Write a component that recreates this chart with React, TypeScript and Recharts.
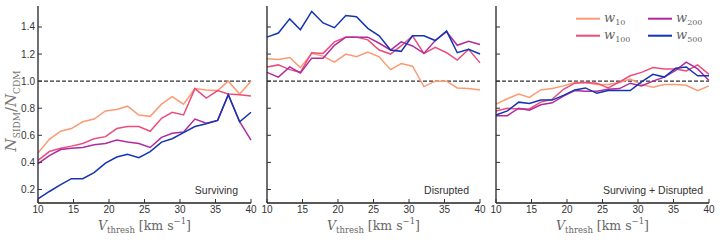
import React from "react";
import { LineChart, Line, XAxis, YAxis, ReferenceLine } from "recharts";

// threshold velocities (km/s), shared by all three panels
const V_THRESH = [10, 11.6, 13.2, 14.7, 16.3, 17.9, 19.5, 21.1, 22.6, 24.2, 25.8, 27.4, 28.9, 30.5, 32.1, 33.7, 35.3, 36.8, 38.4, 40];

// Surviving
const SURV_W10 = [0.47, 0.57, 0.63, 0.65, 0.7, 0.72, 0.78, 0.79, 0.815, 0.75, 0.74, 0.83, 0.885, 0.83, 0.945, 0.935, 0.93, 1.0, 0.905, 1.0];
const SURV_W100 = [0.415, 0.48, 0.505, 0.52, 0.54, 0.575, 0.59, 0.65, 0.665, 0.665, 0.63, 0.725, 0.77, 0.75, 0.945, 0.875, 0.93, 0.905, 0.9, 0.89];
const SURV_W200 = [0.39, 0.45, 0.495, 0.505, 0.51, 0.53, 0.54, 0.565, 0.55, 0.54, 0.51, 0.585, 0.615, 0.625, 0.72, 0.69, 0.71, 0.9, 0.7, 0.565];
const SURV_W500 = [0.13, 0.185, 0.235, 0.28, 0.28, 0.325, 0.395, 0.44, 0.46, 0.435, 0.48, 0.55, 0.575, 0.62, 0.665, 0.685, 0.71, 0.9, 0.7, 0.77];

// Disrupted
const DISR_W10 = [1.165, 1.16, 1.175, 1.1, 1.205, 1.185, 1.14, 1.2, 1.18, 1.215, 1.18, 1.085, 1.13, 1.11, 0.96, 1.0, 1.0, 0.95, 0.945, 0.935];
const DISR_W100 = [1.105, 1.12, 1.085, 1.065, 1.21, 1.205, 1.29, 1.325, 1.325, 1.305, 1.23, 1.2, 1.26, 1.335, 1.205, 1.25, 1.21, 1.155, 1.235, 1.135];
const DISR_W200 = [1.065, 1.03, 1.105, 1.06, 1.17, 1.17, 1.265, 1.325, 1.325, 1.325, 1.28, 1.23, 1.29, 1.26, 1.205, 1.3, 1.365, 1.265, 1.295, 1.27];
const DISR_W500 = [1.325, 1.355, 1.46, 1.38, 1.515, 1.43, 1.395, 1.485, 1.475, 1.39, 1.335, 1.23, 1.22, 1.335, 1.335, 1.3, 1.37, 1.21, 1.235, 1.2];

// Surviving + Disrupted
const ALL_W10 = [0.83, 0.87, 0.905, 0.88, 0.935, 0.945, 0.965, 0.99, 0.99, 0.975, 0.975, 0.99, 1.015, 0.975, 0.955, 0.975, 0.975, 0.97, 0.93, 0.965];
const ALL_W100 = [0.78, 0.8, 0.795, 0.795, 0.845, 0.865, 0.94, 0.985, 0.99, 0.985, 0.95, 0.995, 1.04, 1.065, 1.1, 1.09, 1.09, 1.075, 1.12, 1.05];
const ALL_W200 = [0.745, 0.745, 0.8, 0.785, 0.825, 0.84, 0.89, 0.93, 0.925, 0.925, 0.94, 0.945, 0.985, 0.965, 1.0, 1.03, 1.08, 1.14, 1.09, 1.005];
const ALL_W500 = [0.75, 0.78, 0.845, 0.835, 0.86, 0.86, 0.895, 0.935, 0.95, 0.91, 0.93, 0.93, 0.93, 0.995, 1.05, 1.03, 1.095, 1.105, 1.04, 1.04];

const X_TICKS = [10, 15, 20, 25, 30, 35, 40];
const Y_TICKS = [0.2, 0.4, 0.6, 0.8, 1.0, 1.2, 1.4];
const Y_DOMAIN = [0.1, 1.555];

const SERIES = [
  { key: "w10", sub: "10", color: "#fc9a73" },
  { key: "w100", sub: "100", color: "#eb4d7c" },
  { key: "w200", sub: "200", color: "#b12a9f" },
  { key: "w500", sub: "500", color: "#1435b2" },
];

const PANELS = [
  { note: "Surviving", cols: [SURV_W10, SURV_W100, SURV_W200, SURV_W500], left: 0, width: 258, yw: 38, right: 7, inset: 13 },
  { note: "Disrupted", cols: [DISR_W10, DISR_W100, DISR_W200, DISR_W500], left: 259, width: 230, yw: 8, right: 9, inset: 11 },
  { note: "Surviving + Disrupted", cols: [ALL_W10, ALL_W100, ALL_W200, ALL_W500], left: 488, width: 232, yw: 8, right: 11, inset: 6 },
];

const TICK_FONT = '"Liberation Sans", Arial, sans-serif';
const MATH_FONT = '"DejaVu Serif", serif';

function YTick(props: any) {
  const { x, y, payload, showLabel } = props;
  const ax = x + 4;
  return (
    <g>
      <line x1={ax} x2={ax + 4} y1={y} y2={y} stroke="#333" strokeWidth={1} />
      {showLabel && (
        <text x={ax - 3} y={y} dy="0.35em" textAnchor="end" fontSize={10} fill="#333" fontFamily={TICK_FONT}>
          {payload.value.toFixed(1)}
        </text>
      )}
    </g>
  );
}

function XTick(props: any) {
  const { x, y, payload } = props;
  const ay = y - 3;
  return (
    <g>
      <line x1={x} x2={x} y1={ay} y2={ay - 4} stroke="#333" strokeWidth={1} />
      <text x={x} y={ay + 3} dy="0.71em" textAnchor="middle" fontSize={10} fill="#333" fontFamily={TICK_FONT}>
        {payload.value}
      </text>
    </g>
  );
}

function Panel({ p, idx }: { p: any; idx: number }) {
  const rows = V_THRESH.map((v, i) => {
    const r: Record<string, number> = { x: v };
    SERIES.forEach((s, k) => (r[s.key] = p.cols[k][i]));
    return r;
  });
  const plotLeft = p.left + p.yw;
  const plotRight = p.left + p.width - p.right;
  return (
    <>
      <div style={{ position: "absolute", left: p.left, top: 0 }}>
        <LineChart width={p.width} height={240} data={rows} margin={{ top: 6, right: p.right, bottom: 0, left: 0 }}>
          <XAxis
            dataKey="x"
            type="number"
            domain={[10, 40]}
            ticks={X_TICKS}
            interval={0}
            height={37}
            tickSize={0}
            tickMargin={3}
            tickLine={false}
            axisLine={{ stroke: "#222", strokeWidth: 1.3 }}
            tick={(t: any) => <XTick {...t} />}
          />
          <XAxis xAxisId="top" orientation="top" type="number" domain={[10, 40]} height={0} tick={false} tickLine={false} axisLine={{ stroke: "#999", strokeWidth: 2.5 }} />
          <YAxis
            type="number"
            domain={Y_DOMAIN}
            ticks={Y_TICKS}
            interval={0}
            width={p.yw}
            allowDataOverflow
            tickSize={0}
            tickMargin={4}
            tickLine={false}
            axisLine={{ stroke: "#222", strokeWidth: 1.3 }}
            tick={(t: any) => <YTick {...t} showLabel={idx === 0} />}
          />
          <YAxis yAxisId="right" orientation="right" type="number" domain={Y_DOMAIN} width={0} tick={false} tickLine={false} axisLine={{ stroke: "#999", strokeWidth: 2.5 }} />
          <ReferenceLine y={1} stroke="#333" strokeDasharray="4 2" strokeWidth={1.2} />
          {SERIES.map((s) => (
            <Line key={s.key} dataKey={s.key} type="linear" stroke={s.color} strokeWidth={1.5} dot={false} isAnimationActive={false} />
          ))}
        </LineChart>
      </div>
      <div
        style={{
          position: "absolute",
          left: plotRight - p.inset,
          top: 190,
          transform: "translate(-100%, -50%)",
          fontFamily: TICK_FONT,
          fontSize: 10.5,
          color: "#333",
          whiteSpace: "nowrap",
        }}
      >
        {p.note}
      </div>
      <div
        style={{
          position: "absolute",
          left: (plotLeft + plotRight) / 2,
          top: 226,
          transform: "translate(-50%, -50%)",
          fontFamily: MATH_FONT,
          fontSize: 12.5,
          color: "#666",
          whiteSpace: "nowrap",
          lineHeight: 1,
        }}
      >
        <i>V</i>
        <sub style={{ fontSize: 8.5 }}>thresh</sub> [km s<sup style={{ fontSize: 8.5 }}>−1</sup>]
      </div>
    </>
  );
}

export default function App() {
  return (
    <div style={{ position: "absolute", left: 0, top: 0, width: 720, height: 240, background: "#fff", overflow: "hidden" }}>
      {PANELS.map((p, i) => (
        <Panel key={p.note} p={p} idx={i} />
      ))}
      <div
        style={{
          position: "absolute",
          left: 13,
          top: 111,
          transform: "translate(-50%, -50%) rotate(-90deg)",
          fontFamily: MATH_FONT,
          fontSize: 15,
          color: "#777",
          whiteSpace: "nowrap",
          lineHeight: 1,
        }}
      >
        <i>N</i>
        <sub style={{ fontSize: 9 }}>SIDM</sub>/<i>N</i>
        <sub style={{ fontSize: 9 }}>CDM</sub>
      </div>
      {SERIES.map((s, i) => {
        const col = Math.floor(i / 2);
        const row = i % 2;
        return (
          <div key={s.key} style={{ position: "absolute", left: 576 + col * 72, top: 19 + row * 17, transform: "translateY(-50%)", display: "flex", alignItems: "center" }}>
            <div style={{ width: 24, height: 2, background: s.color }} />
            <div style={{ marginLeft: 4, fontFamily: MATH_FONT, fontSize: 13, color: "#666", lineHeight: 1, whiteSpace: "nowrap" }}>
              <i>w</i>
              <sub style={{ fontSize: 8 }}>{s.sub}</sub>
            </div>
          </div>
        );
      })}
    </div>
  );
}
